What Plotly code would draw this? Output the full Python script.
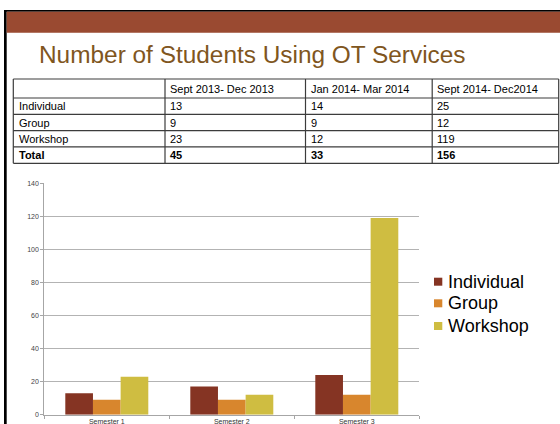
import plotly.graph_objects as go

W, H = 560, 424


def px(x):
    return x / W


def py(y):
    return 1 - y / H


# ---------------- data ----------------
title_text = "Number of Students Using OT Services"
row_labels = ["Individual", "Group", "Workshop", "Total"]
periods = ["Sept 2013- Dec 2013", "Jan 2014- Mar 2014", "Sept 2014- Dec2014"]
table_p1 = [13, 9, 23, 45]
table_p2 = [14, 9, 12, 33]
table_p3 = [25, 12, 119, 156]

semesters = ["Semester 1", "Semester 2", "Semester 3"]
individual = [13, 17, 24]
group = [9, 9, 12]
workshop = [23, 12, 119]
series_names = ["Individual", "Group", "Workshop"]
series_values = [individual, group, workshop]
series_colors = ["#853423", "#D8862D", "#CFBD41"]
y_ticks = [0, 20, 40, 60, 80, 100, 120, 140]

FONT = "Arial, Liberation Sans, sans-serif"

fig = go.Figure()

# ---------------- bars ----------------
for name, vals, col in zip(series_names, series_values, series_colors):
    fig.add_trace(go.Bar(
        x=semesters, y=vals, name=name,
        marker=dict(color=col, line=dict(width=0)),
        showlegend=False,
    ))

shapes = []
annotations = []

# ---------------- slide frame ----------------
shapes += [
    dict(type="rect", xref="paper", yref="paper", x0=px(4), x1=1, y0=py(11.7), y1=py(10),
         fillcolor="black", line=dict(width=0), layer="above"),
    dict(type="rect", xref="paper", yref="paper", x0=px(4), x1=px(6.7), y0=0, y1=py(10),
         fillcolor="black", line=dict(width=0), layer="above"),
    dict(type="rect", xref="paper", yref="paper", x0=px(6.7), x1=1, y0=py(32.7), y1=py(11.7),
         fillcolor="#9A4A31", line=dict(width=0), layer="above"),
]

annotations.append(dict(text=title_text, xref="paper", yref="paper", x=px(37), y=py(54.5),
                        xanchor="left", yanchor="middle", showarrow=False,
                        font=dict(family=FONT, size=24.4, color="#80561E")))

# ---------------- table (drawn as layout lines + text) ----------------
col_edges = [13.3, 165, 305.5, 432.2, 558.7]
row_edges = [79, 98, 114.3, 130.6, 146.9, 163.3]
TBL_LINE = "#3C3C3C"
for xe in col_edges:
    shapes.append(dict(type="line", xref="paper", yref="paper",
                       x0=px(xe), x1=px(xe), y0=py(row_edges[0]), y1=py(row_edges[-1]),
                       line=dict(color=TBL_LINE, width=1.2)))
for ye in row_edges:
    shapes.append(dict(type="line", xref="paper", yref="paper",
                       x0=px(col_edges[0]), x1=px(col_edges[-1]), y0=py(ye), y1=py(ye),
                       line=dict(color=TBL_LINE, width=1.2)))

table_cols = [[""] + row_labels,
              [periods[0]] + table_p1,
              [periods[1]] + table_p2,
              [periods[2]] + table_p3]
for ci, col in enumerate(table_cols):
    for ri, val in enumerate(col):
        txt = str(val)
        if txt == "":
            continue
        if ri == len(col) - 1:
            txt = "<b>" + txt + "</b>"
        yc = (row_edges[ri] + row_edges[ri + 1]) / 2
        annotations.append(dict(text=txt, xref="paper", yref="paper",
                                x=px(col_edges[ci] + 3.2), y=py(yc + 0.3),
                                xanchor="left", yanchor="middle", showarrow=False,
                                font=dict(family=FONT, size=11, color="black")))

# ---------------- manual legend ----------------
leg_y = [281.7, 303.3, 326]
for name, col, yy in zip(series_names, series_colors, leg_y):
    shapes.append(dict(type="rect", xref="paper", yref="paper",
                       x0=px(434), x1=px(442.3), y0=py(yy + 4), y1=py(yy - 4),
                       fillcolor=col, line=dict(width=0)))
    annotations.append(dict(text=name, xref="paper", yref="paper", x=px(446), y=py(yy),
                            xanchor="left", yanchor="middle", showarrow=False,
                            font=dict(family=FONT, size=18, color="black")))

fig.update_layout(
    template="none",
    width=W, height=H,
    margin=dict(l=0, r=0, t=0, b=0),
    paper_bgcolor="white", plot_bgcolor="white",
    showlegend=False,
    barmode="group", bargap=0.336, bargroupgap=0,
    shapes=shapes, annotations=annotations,
    xaxis=dict(
        domain=[px(44.3), px(419.3)],
        automargin=False,
        showline=True, linecolor="#A6A6A6", linewidth=1,
        ticks="outside", tickson="boundaries", ticklen=3, tickcolor="#A6A6A6",
        ticklabelstandoff=0,
        showgrid=False, zeroline=False,
        tickfont=dict(family=FONT, size=7, color="#333333"),
    ),
    yaxis=dict(
        domain=[py(414.7), py(183.2)],
        automargin=False,
        range=[0, 140], tickvals=y_ticks,
        showline=True, linecolor="#A6A6A6", linewidth=1,
        ticks="outside", ticklen=3, tickcolor="#A6A6A6",
        showgrid=True, gridcolor="#B3B3B3", gridwidth=1,
        zeroline=False,
        tickfont=dict(family=FONT, size=7, color="#444444"),
    ),
)

fig.write_html("out.html", config={"displayModeBar": False},
               post_script="document.body.style.margin='0';document.body.style.overflow='hidden';")
